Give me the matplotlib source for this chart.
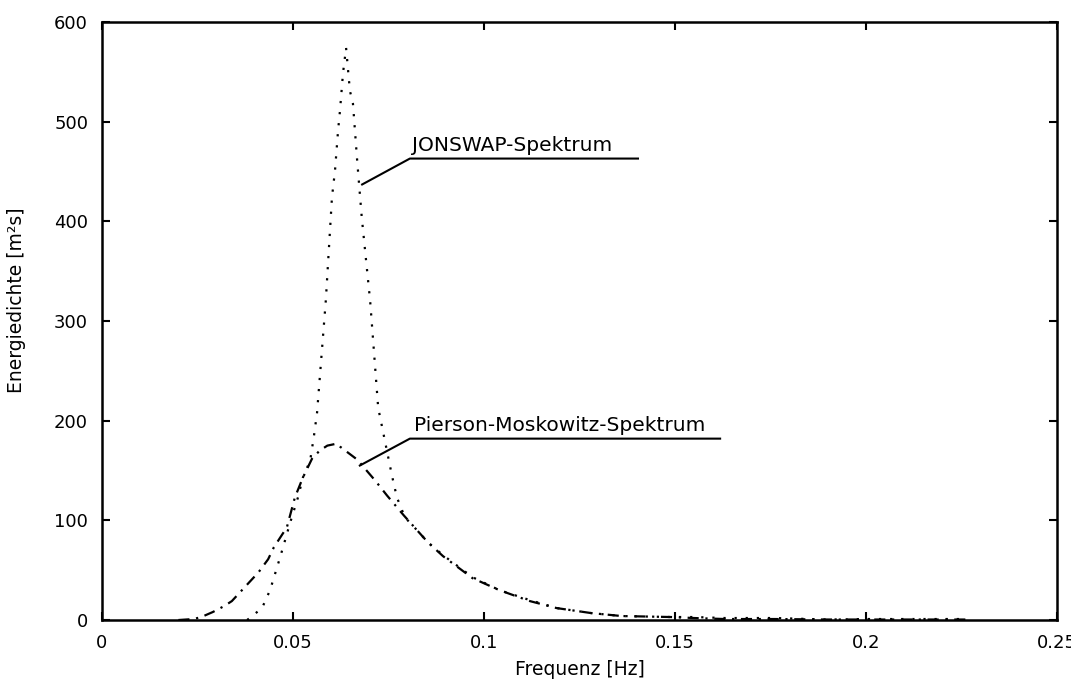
import matplotlib
matplotlib.use("Agg")
import matplotlib.pyplot as plt

# JONSWAP-Spektrum
f_jonswap = [0.038, 0.0419, 0.044, 0.046, 0.0474, 0.0492, 0.0513, 0.0526, 0.0545,
             0.0555, 0.0563, 0.0586, 0.0602, 0.061, 0.0618, 0.0623, 0.0631, 0.0639,
             0.0649, 0.0657, 0.0668, 0.068, 0.0702, 0.0723, 0.0759, 0.0772, 0.0793,
             0.0825, 0.0853, 0.0893, 0.097, 0.104, 0.112, 0.119, 0.128, 0.136, 0.149,
             0.155, 0.163, 0.176, 0.19, 0.2, 0.226]
s_jonswap = [0, 12, 30, 55, 73, 97, 123, 143, 160,
             185, 208, 321, 424, 451, 491, 511, 549, 574,
             531, 518, 461, 404, 320, 213, 145, 123, 103,
             90, 78, 65, 43, 30, 20, 12, 7, 4, 3,
             3, 2, 2, 0.5, 1, 1]

# Pierson-Moskowitz-Spektrum
f_pm = [0.020, 0.024, 0.026, 0.029, 0.032, 0.034, 0.041, 0.0435, 0.045, 0.0484,
        0.0505, 0.0526, 0.055, 0.057, 0.059, 0.0615, 0.0623, 0.0668, 0.0715, 0.0746,
        0.079, 0.0825, 0.0853, 0.0893, 0.097, 0.104, 0.112, 0.119, 0.128, 0.136,
        0.149, 0.155, 0.163, 0.176, 0.19, 0.2, 0.226]
s_pm = [0, 1, 3, 8, 14, 19, 48, 61, 73, 93,
        123, 143, 162, 170, 175, 177, 174, 161, 140, 125,
        105, 90, 78, 64, 42, 30, 19, 12, 7, 4,
        3, 2, 1, 1, 0.5, 0.5, 0.5]

x_ticks = [0, 0.05, 0.1, 0.15, 0.2, 0.25]
x_ticklabels = ["0", "0.05", "0.1", "0.15", "0.2", "0.25"]
y_ticks = [0, 100, 200, 300, 400, 500, 600]

# leader lines for the curve labels (data coords)
jonswap_leader_x = [0.0681, 0.0806, 0.1403]
jonswap_leader_y = [437, 463, 463]
pm_leader_x = [0.0675, 0.0806, 0.1618]
pm_leader_y = [155, 182, 182]


def main():
    plt.rcParams["font.family"] = ["DejaVu Sans"]
    fig = plt.figure(figsize=(10.71, 6.88), dpi=100)
    ax = fig.add_axes([0.0952, 0.0988, 0.8918, 0.8692])

    ax.plot(f_jonswap, s_jonswap, color="black", lw=1.6, linestyle=(0, (1, 4)))
    ax.plot(f_pm, s_pm, color="black", lw=1.6, linestyle=(0, (5, 3, 1, 3)))

    ax.plot(jonswap_leader_x, jonswap_leader_y, color="black", lw=1.5)
    ax.plot(pm_leader_x, pm_leader_y, color="black", lw=1.5)
    ax.text(0.0812, 467, "JONSWAP-Spektrum", fontsize=14.5, ha="left", va="bottom")
    ax.text(0.0818, 186, "Pierson-Moskowitz-Spektrum", fontsize=14.5, ha="left", va="bottom")

    ax.set_xlim(0, 0.25)
    ax.set_ylim(0, 600)
    ax.set_xticks(x_ticks)
    ax.set_xticklabels(x_ticklabels)
    ax.set_yticks(y_ticks)
    ax.tick_params(direction="in", top=True, right=True, length=6, width=1.5,
                   labelsize=13, pad=10)
    for s in ax.spines.values():
        s.set_linewidth(1.8)

    ax.set_xlabel("Frequenz [Hz]", fontsize=13.5, labelpad=6)
    ax.set_ylabel("Energiedichte [m²s]", fontsize=13.5)
    ax.yaxis.set_label_coords(-0.080, 0.535)

    fig.savefig("out.png", dpi=100)


if __name__ == "__main__":
    main()
